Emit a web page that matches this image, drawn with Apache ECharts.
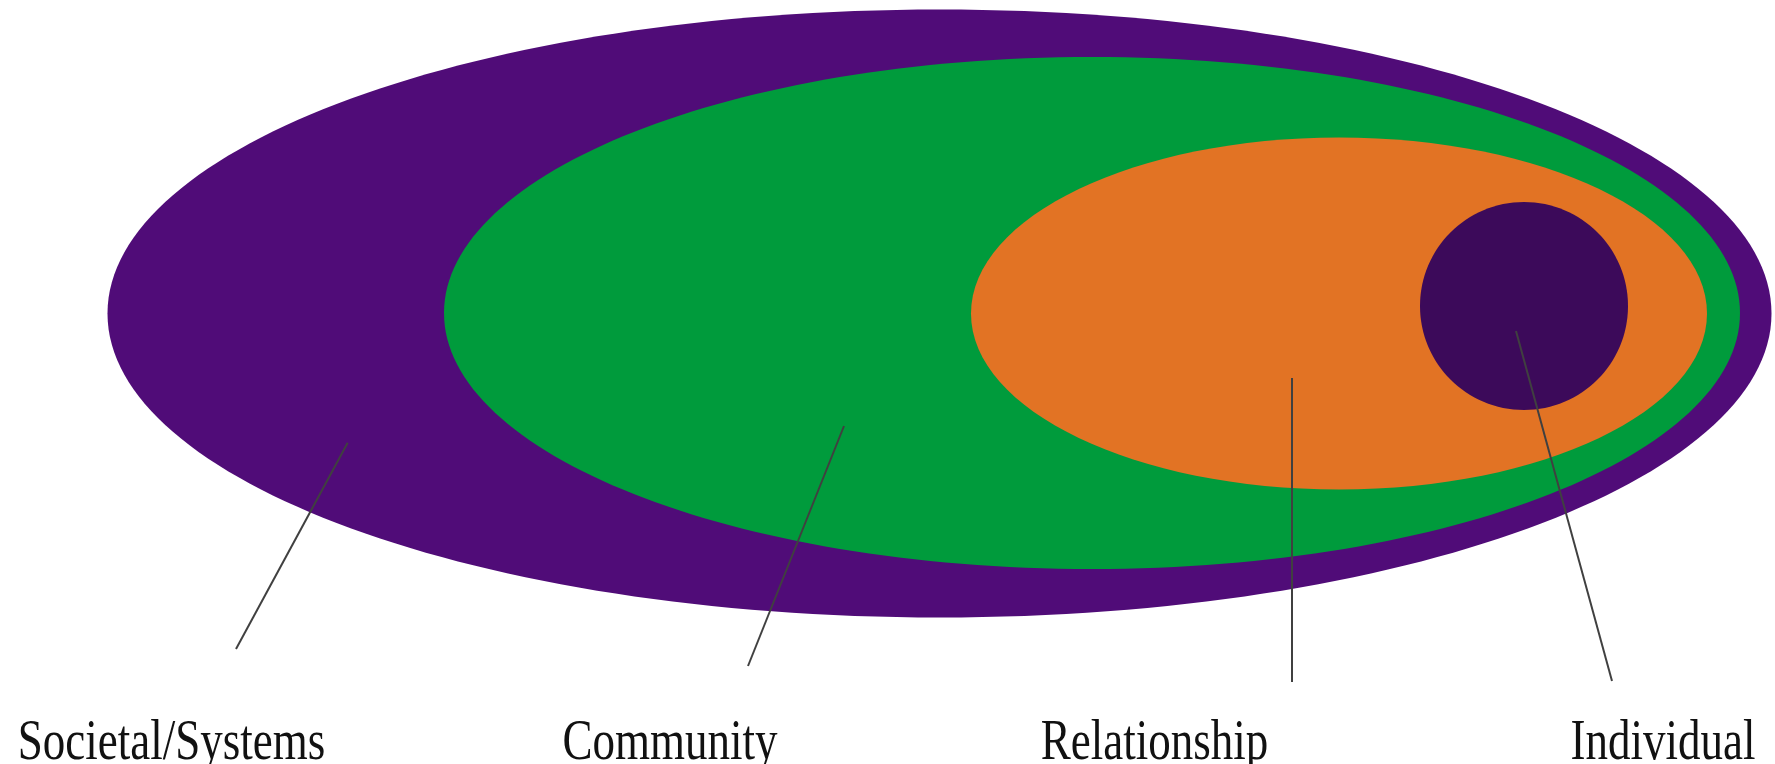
<!DOCTYPE html>
<html>
<head>
<meta charset="utf-8">
<script src="https://cdn.jsdelivr.net/npm/echarts@6/dist/echarts.min.js"></script>
<style>
	html, body { margin:0; padding:0; background:#fff; }
	#main { width:1775px; height:764px; }
</style>
</head>
<body>
<div id="main"></div>
<script>
	// levels, outer to inner
	var levels = ['Societal/Systems', 'Community', 'Relationship', 'Individual'];
	var centerX = [939.5, 1092, 1339, 1524];
	var centerY = [313.5, 313, 313.5, 306];
	var radiusX = [832, 648, 368, 104];
	var radiusY = [304, 256, 176, 104];
	var colors = ['#500c78', '#009b3c', '#e27324', '#3c0a5a'];

	// leader lines: from inside shape down to label
	var lineFromX = [347.7, 844, 1292, 1516];
	var lineFromY = [442.7, 426, 378, 331];
	var lineToX = [236, 748, 1292, 1612];
	var lineToY = [649, 666, 682, 681];

	var labelX = [171.5, 670, 1154.5, 1663];
	var labelY = [744, 744, 744, 744];

	var chart = echarts.init(document.getElementById('main'));

	var option = {
		animation: false,
		grid: { left: 0, right: 0, top: 0, bottom: 0 },
		xAxis: { type: 'value', min: 0, max: 1775, show: false },
		yAxis: { type: 'value', min: 0, max: 764, inverse: true, show: false },
		series: [
			{
				type: 'custom',
				data: levels.map(function (n, i) { return [centerX[i], centerY[i], radiusX[i], radiusY[i], i]; }),
				renderItem: function (params, api) {
					var c = api.coord([api.value(0), api.value(1)]);
					var e = api.coord([api.value(0) + api.value(2), api.value(1) + api.value(3)]);
					return {
						type: 'ellipse',
						shape: { cx: c[0], cy: c[1], rx: e[0] - c[0], ry: e[1] - c[1] },
						style: { fill: colors[api.value(4)] }
					};
				}
			},
			{
				type: 'custom',
				data: levels.map(function (n, i) { return [lineFromX[i], lineFromY[i], lineToX[i], lineToY[i]]; }),
				renderItem: function (params, api) {
					var a = api.coord([api.value(0), api.value(1)]);
					var b = api.coord([api.value(2), api.value(3)]);
					return {
						type: 'line',
						shape: { x1: a[0], y1: a[1], x2: b[0], y2: b[1] },
						style: { stroke: '#404040', lineWidth: 2 }
					};
				}
			},
			{
				type: 'custom',
				data: levels.map(function (n, i) { return [labelX[i], labelY[i], i]; }),
				renderItem: function (params, api) {
					var p = api.coord([api.value(0), api.value(1)]);
					return {
						type: 'text',
						x: p[0],
						y: p[1],
						scaleY: 1.25,
						style: {
							text: levels[api.value(2)],
							font: '45px "Liberation Serif", serif',
							fill: '#111',
							align: 'center',
							verticalAlign: 'middle'
						}
					};
				}
			}
		]
	};

	chart.setOption(option);
</script>
</body>
</html>
